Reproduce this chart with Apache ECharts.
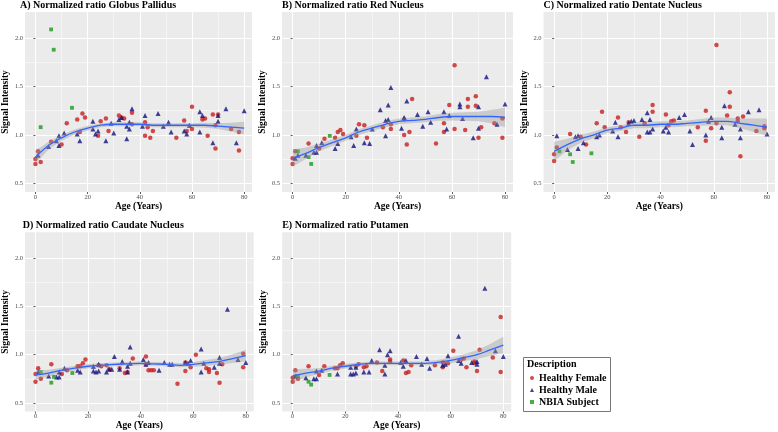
<!DOCTYPE html>
<html>
<head>
<meta charset="utf-8">
<script src="https://cdn.jsdelivr.net/npm/echarts@6/dist/echarts.min.js"></script>
<style>
html, body { margin: 0; padding: 0; background: #fff; }
#signal-chart { width: 778px; height: 432px; }
</style>
</head>
<body>
<div id="signal-chart"></div>
<script>
var fitAges = [0, 5, 10, 15, 20, 25, 30, 35, 40, 45, 50, 55, 60, 65, 70, 75, 80];
var xTicks = [0, 20, 40, 60, 80];
var xMinor = [10, 30, 50, 70];
var yTicks = [0.5, 1.0, 1.5, 2.0];
var yMinor = [0.75, 1.25, 1.75];
var groupNames = ["Healthy Female", "Healthy Male", "NBIA Subject"];
var titles = [
  "A) Normalized ratio Globus Pallidus",
  "B) Normalized ratio Red Nucleus",
  "C) Normalized ratio Dentate Nucleus",
  "D) Normalized ratio Caudate Nucleus",
  "E) Normalized ratio Putamen"
];

// A) Globus Pallidus
var femaleA = [[0,0.75],[0,0.70],[1,0.83],[2,0.72],[6,0.93],[10,0.90],[12,1.12],[16,1.16],[17,1.03],[18,1.22],[19,1.18],[24,0.99],[25,1.14],[27,1.17],[28,1.04],[32,1.20],[33,1.18],[34,1.17],[37,1.23],[37,1.11],[42,1.13],[42,0.99],[43,1.08],[44,0.97],[45,1.04],[54,0.97],[57,1.15],[58,1.04],[60,1.29],[60,1.06],[64,1.16],[65,1.17],[66,0.99],[68,1.21],[69,0.86],[69,1.10],[70,1.21],[75,1.06],[78,1.03],[78,0.84]];
var maleA = [[1,0.79],[5,0.88],[8,0.94],[9,0.99],[9,0.89],[11,1.02],[16,1.01],[17,0.94],[22,1.14],[22,1.06],[23,1.01],[24,1.04],[27,0.94],[29,1.12],[30,1.02],[32,1.16],[33,1.18],[35,0.96],[35,1.09],[36,1.13],[36,1.06],[37,1.27],[41,1.09],[42,1.20],[47,1.22],[49,1.09],[51,1.13],[52,1.03],[57,1.04],[58,1.01],[59,1.10],[63,1.24],[63,1.03],[64,1.20],[68,0.92],[70,1.14],[70,1.20],[73,1.27],[77,0.92],[80,1.25]];
var nbiaA = [[2,1.08],[6,2.09],[7,1.88],[14,1.28]];
var fitA = [0.77,0.89,0.97,1.03,1.07,1.10,1.11,1.11,1.11,1.10,1.10,1.10,1.10,1.10,1.09,1.08,1.07];
var bandA = [0.065,0.04,0.03,0.025,0.025,0.02,0.02,0.02,0.02,0.02,0.02,0.02,0.02,0.025,0.03,0.045,0.065];

// B) Red Nucleus
var femaleB = [[0,0.76],[0,0.70],[1,0.83],[6,0.91],[10,0.86],[12,0.96],[16,0.97],[17,1.03],[18,1.05],[19,1.01],[24,0.99],[25,1.11],[27,1.10],[28,0.97],[34,1.08],[37,1.11],[37,1.06],[42,1.00],[42,1.16],[43,0.90],[44,1.03],[45,1.37],[54,0.91],[57,1.12],[57,1.03],[59,1.31],[61,1.72],[61,1.06],[65,1.05],[66,1.37],[66,1.29],[69,1.40],[69,1.30],[70,0.97],[71,1.08],[76,1.12],[79,1.17],[79,0.97]];
var maleB = [[1,0.76],[2,0.79],[5,0.79],[8,0.82],[9,0.89],[9,0.82],[11,0.92],[16,0.86],[17,0.91],[22,0.98],[23,0.89],[24,1.06],[27,0.92],[29,0.91],[30,1.06],[33,1.26],[35,0.99],[35,1.15],[36,1.31],[36,1.16],[37,1.49],[41,1.07],[42,1.18],[43,1.35],[47,1.21],[49,1.09],[51,1.24],[52,1.13],[57,1.24],[58,1.06],[59,1.20],[63,1.32],[63,1.29],[64,1.17],[68,0.97],[70,1.07],[70,1.29],[73,1.60],[77,1.11],[80,1.32]];
var nbiaB = [[2,0.83],[6,0.77],[7,0.70],[14,0.99]];
var fitB = [0.76,0.81,0.87,0.92,0.97,1.03,1.07,1.11,1.14,1.15,1.16,1.18,1.19,1.19,1.19,1.19,1.18];
var bandB = [0.09,0.06,0.04,0.035,0.03,0.03,0.03,0.03,0.03,0.03,0.03,0.035,0.04,0.045,0.05,0.07,0.10];

// C) Dentate Nucleus
var femaleC = [[0,0.80],[0,0.73],[1,0.87],[6,1.01],[10,0.98],[12,0.90],[16,1.12],[18,1.24],[19,1.08],[24,1.18],[25,1.08],[27,1.03],[28,1.13],[32,0.98],[34,1.12],[37,1.31],[37,1.24],[42,1.21],[43,1.10],[44,1.14],[45,1.15],[54,1.08],[57,1.25],[57,0.94],[59,1.07],[61,1.93],[61,1.12],[65,1.20],[66,1.44],[66,1.29],[69,1.17],[69,1.14],[70,0.78],[71,1.19],[76,1.04],[79,1.09],[79,1.07]];
var maleC = [[1,0.99],[5,0.85],[8,0.98],[9,0.86],[9,0.99],[11,0.92],[16,0.98],[17,1.00],[22,1.04],[23,1.13],[24,0.98],[28,1.12],[29,1.14],[30,1.15],[33,1.16],[35,1.23],[35,1.03],[36,1.03],[36,1.16],[37,1.06],[41,1.04],[42,1.08],[43,1.03],[47,1.18],[49,1.21],[51,1.04],[52,0.90],[57,1.00],[58,1.14],[59,1.18],[63,0.97],[63,1.08],[64,1.30],[68,1.11],[70,1.06],[70,0.97],[73,1.24],[77,1.26],[80,1.01]];
var nbiaC = [[2,0.83],[6,0.80],[7,0.72],[14,0.81]];
var fitC = [0.83,0.90,0.96,1.00,1.05,1.07,1.10,1.10,1.11,1.11,1.12,1.13,1.14,1.14,1.12,1.10,1.08];
var bandC = [0.10,0.06,0.04,0.035,0.03,0.03,0.03,0.03,0.03,0.03,0.03,0.035,0.04,0.04,0.05,0.07,0.09];

// D) Caudate Nucleus
var femaleD = [[0,0.80],[0,0.72],[1,0.86],[2,0.75],[6,0.90],[10,0.80],[12,0.84],[16,0.88],[17,0.88],[18,0.91],[19,0.95],[24,0.89],[25,0.88],[27,0.89],[28,0.85],[32,0.86],[34,0.81],[35,0.82],[37,0.96],[42,0.98],[42,0.90],[43,0.84],[44,0.84],[45,0.84],[54,0.70],[57,0.92],[57,0.83],[59,0.87],[61,1.00],[65,0.86],[66,0.82],[66,0.85],[69,0.81],[70,0.71],[71,0.90],[79,1.01],[79,0.87]];
var maleD = [[1,0.82],[5,0.78],[8,0.77],[9,0.77],[9,0.82],[11,0.86],[16,0.84],[17,0.82],[22,0.88],[22,0.83],[23,0.82],[24,0.83],[24,0.90],[27,0.82],[28,0.85],[29,0.85],[30,0.98],[32,0.85],[33,0.93],[35,0.82],[35,0.88],[36,1.08],[36,0.91],[41,0.95],[42,0.90],[43,0.92],[47,0.84],[49,0.92],[51,0.90],[52,0.90],[57,0.92],[58,0.91],[59,0.94],[63,1.06],[63,0.82],[64,0.91],[68,0.87],[70,0.97],[70,0.91],[73,1.47],[77,0.95],[80,0.92]];
var nbiaD = [[2,0.82],[6,0.71],[7,0.77],[14,0.81]];
var fitD = [0.79,0.81,0.84,0.86,0.88,0.89,0.90,0.905,0.91,0.905,0.90,0.89,0.90,0.915,0.93,0.96,0.99];
var bandD = [0.05,0.035,0.025,0.025,0.02,0.02,0.02,0.02,0.02,0.02,0.02,0.02,0.025,0.03,0.035,0.045,0.06];

// E) Putamen
var femaleE = [[0,0.76],[0,0.72],[1,0.84],[2,0.75],[6,0.88],[10,0.79],[12,0.88],[16,0.86],[17,0.86],[18,0.89],[19,0.91],[24,0.88],[25,0.90],[27,0.87],[28,0.88],[32,0.92],[34,0.83],[37,0.93],[37,0.95],[42,0.94],[43,0.81],[44,0.82],[45,0.89],[54,0.89],[57,0.87],[57,0.92],[59,0.91],[61,1.04],[64,0.95],[65,0.96],[66,0.87],[69,0.93],[69,0.91],[70,0.83],[71,1.05],[76,0.97],[79,1.39],[79,0.82]];
var maleE = [[1,0.78],[5,0.76],[8,0.75],[9,0.75],[9,0.83],[11,0.84],[17,0.80],[22,0.87],[22,0.80],[23,0.80],[24,0.81],[24,0.87],[27,0.82],[29,0.82],[30,0.94],[33,1.05],[35,0.80],[35,0.89],[36,1.00],[37,1.04],[41,0.92],[42,0.88],[43,0.94],[47,0.98],[49,0.90],[51,0.96],[52,0.86],[57,0.89],[58,0.90],[59,0.99],[63,1.19],[63,0.94],[64,0.91],[68,0.92],[70,0.93],[70,0.90],[73,1.69],[77,1.04],[80,0.98]];
var nbiaE = [[2,0.78],[6,0.72],[7,0.69],[14,0.79]];
var fitE = [0.78,0.81,0.83,0.86,0.88,0.90,0.91,0.91,0.91,0.91,0.91,0.92,0.94,0.97,1.00,1.05,1.10];
var bandE = [0.07,0.045,0.03,0.025,0.025,0.02,0.02,0.02,0.02,0.02,0.02,0.025,0.03,0.035,0.045,0.06,0.085];

var serif = "'Liberation Serif', 'DejaVu Serif', serif";
var colors = ["#c81e1e", "#12127e", "#1c9a1c"];

// panel boxes on the page
var panels = [
  { female: femaleA, male: maleA, nbia: nbiaA, fit: fitA, band: bandA, left: 20, top: 12, width: 232 },
  { female: femaleB, male: maleB, nbia: nbiaB, fit: fitB, band: bandB, left: 282, top: 12, width: 231 },
  { female: femaleC, male: maleC, nbia: nbiaC, fit: fitC, band: bandC, left: 543.5, top: 12, width: 231.5 },
  { female: femaleD, male: maleD, nbia: nbiaD, fit: fitD, band: bandD, left: 22.7, top: 232.2, width: 231 },
  { female: femaleE, male: maleE, nbia: nbiaE, fit: fitE, band: bandE, left: 282.2, top: 232.2, width: 229 }
];

var myChart = echarts.init(document.getElementById("signal-chart"));

var grids = [], xAxes = [], yAxes = [], series = [], titleList = [];

panels.forEach(function (p, i) {
  grids.push({
    left: p.left, top: p.top, width: p.width, height: 180,
    show: true, backgroundColor: "#ebebeb", borderWidth: 0
  });
  titleList.push({
    text: titles[i], left: p.left, top: p.top - 12, padding: 0,
    textStyle: { fontFamily: serif, fontWeight: "bold", fontSize: 10, color: "#000", lineHeight: 11 }
  });
  // main x axis
  xAxes.push({
    gridIndex: i, type: "value", min: -4, max: 83,
    axisLine: { show: false },
    axisTick: { show: true, length: 2, customValues: xTicks, lineStyle: { color: "#333", width: 0.8 } },
    axisLabel: { customValues: xTicks, fontSize: 6.5, color: "#4d4d4d", margin: 1.5, fontFamily: serif },
    splitLine: { show: true, lineStyle: { color: "#fff", width: 1 } },
    name: "Age (Years)", nameLocation: "middle", nameGap: 8.5,
    nameTextStyle: { fontFamily: serif, fontWeight: "bold", fontSize: 9.5, color: "#000" }
  });
  // minor grid lines for x
  xAxes.push({
    gridIndex: i, type: "value", min: -4, max: 83,
    axisLine: { show: false },
    axisTick: { show: false, customValues: xMinor },
    axisLabel: { show: false },
    splitLine: { show: true, lineStyle: { color: "#fff", width: 0.5 } }
  });
  yAxes.push({
    gridIndex: i, type: "value", min: 0.41, max: 2.27,
    axisLine: { show: false },
    axisTick: { show: true, length: 2, customValues: yTicks, lineStyle: { color: "#333", width: 0.8 } },
    axisLabel: {
      customValues: yTicks, fontSize: 6.5, color: "#4d4d4d", margin: 2, fontFamily: serif,
      formatter: function (v) { return v.toFixed(1); }
    },
    splitLine: { show: true, lineStyle: { color: "#fff", width: 1 } },
    name: "Signal Intensity", nameLocation: "middle", nameGap: 9.5,
    nameTextStyle: { fontFamily: serif, fontWeight: "bold", fontSize: 9.5, color: "#000" }
  });
  yAxes.push({
    gridIndex: i, type: "value", min: 0.41, max: 2.27,
    axisLine: { show: false },
    axisTick: { show: false, customValues: yMinor },
    axisLabel: { show: false },
    splitLine: { show: true, lineStyle: { color: "#fff", width: 0.5 } }
  });

  var xi = i * 2, yi = i * 2;
  series.push({
    name: groupNames[0], type: "scatter", xAxisIndex: xi, yAxisIndex: yi,
    data: p.female, symbol: "circle", symbolSize: 4.5, z: 2,
    itemStyle: { color: colors[0] }
  });
  series.push({
    name: groupNames[1], type: "scatter", xAxisIndex: xi, yAxisIndex: yi,
    data: p.male, symbol: "triangle", symbolSize: 5, z: 2,
    itemStyle: { color: colors[1] }
  });
  series.push({
    name: groupNames[2], type: "scatter", xAxisIndex: xi, yAxisIndex: yi,
    data: p.nbia, symbol: "rect", symbolSize: 3.8, z: 2,
    itemStyle: { color: colors[2] }
  });
  // confidence band of the smooth
  series.push({
    type: "custom", xAxisIndex: xi, yAxisIndex: yi, silent: true, z: 3,
    data: [[p.fit.length, 1]],
    renderItem: function (params, api) {
      var upper = [], lower = [];
      for (var k = 0; k < fitAges.length; k++) {
        upper.push(api.coord([fitAges[k], p.fit[k] + p.band[k]]));
        lower.unshift(api.coord([fitAges[k], p.fit[k] - p.band[k]]));
      }
      return {
        type: "polygon",
        shape: { points: upper.concat(lower) },
        style: { fill: "rgba(153,153,153,0.4)" }
      };
    }
  });
  series.push({
    type: "line", xAxisIndex: xi, yAxisIndex: yi, silent: true, z: 4,
    data: fitAges.map(function (a, k) { return [a, p.fit[k]]; }),
    smooth: 0.4, showSymbol: false,
    lineStyle: { color: "#3366ff", width: 1.3 }
  });
});

var option = {
  animation: false,
  backgroundColor: "#fff",
  title: titleList,
  grid: grids,
  xAxis: xAxes,
  yAxis: yAxes,
  legend: {
    left: 530, top: 372, orient: "vertical",
    itemWidth: 4, itemHeight: 4, itemGap: 0, padding: 0,
    selectedMode: false,
    textStyle: { fontFamily: serif, fontWeight: "bold", fontSize: 10, lineHeight: 12, color: "#000" },
    data: [
      { name: groupNames[0], icon: "circle" },
      { name: groupNames[1], icon: "triangle" },
      { name: groupNames[2], icon: "rect" }
    ]
  },
  graphic: [
    {
      type: "rect", z: 0,
      shape: { x: 523.5, y: 357.5, width: 87, height: 54 },
      style: { fill: "#fff", stroke: "#777", lineWidth: 1 }
    },
    {
      type: "text", left: 527, top: 359, z: 1,
      style: { text: "Description", font: "bold 10px " + serif, fill: "#000" }
    }
  ],
  series: series
};

myChart.setOption(option);
</script>
</body>
</html>
